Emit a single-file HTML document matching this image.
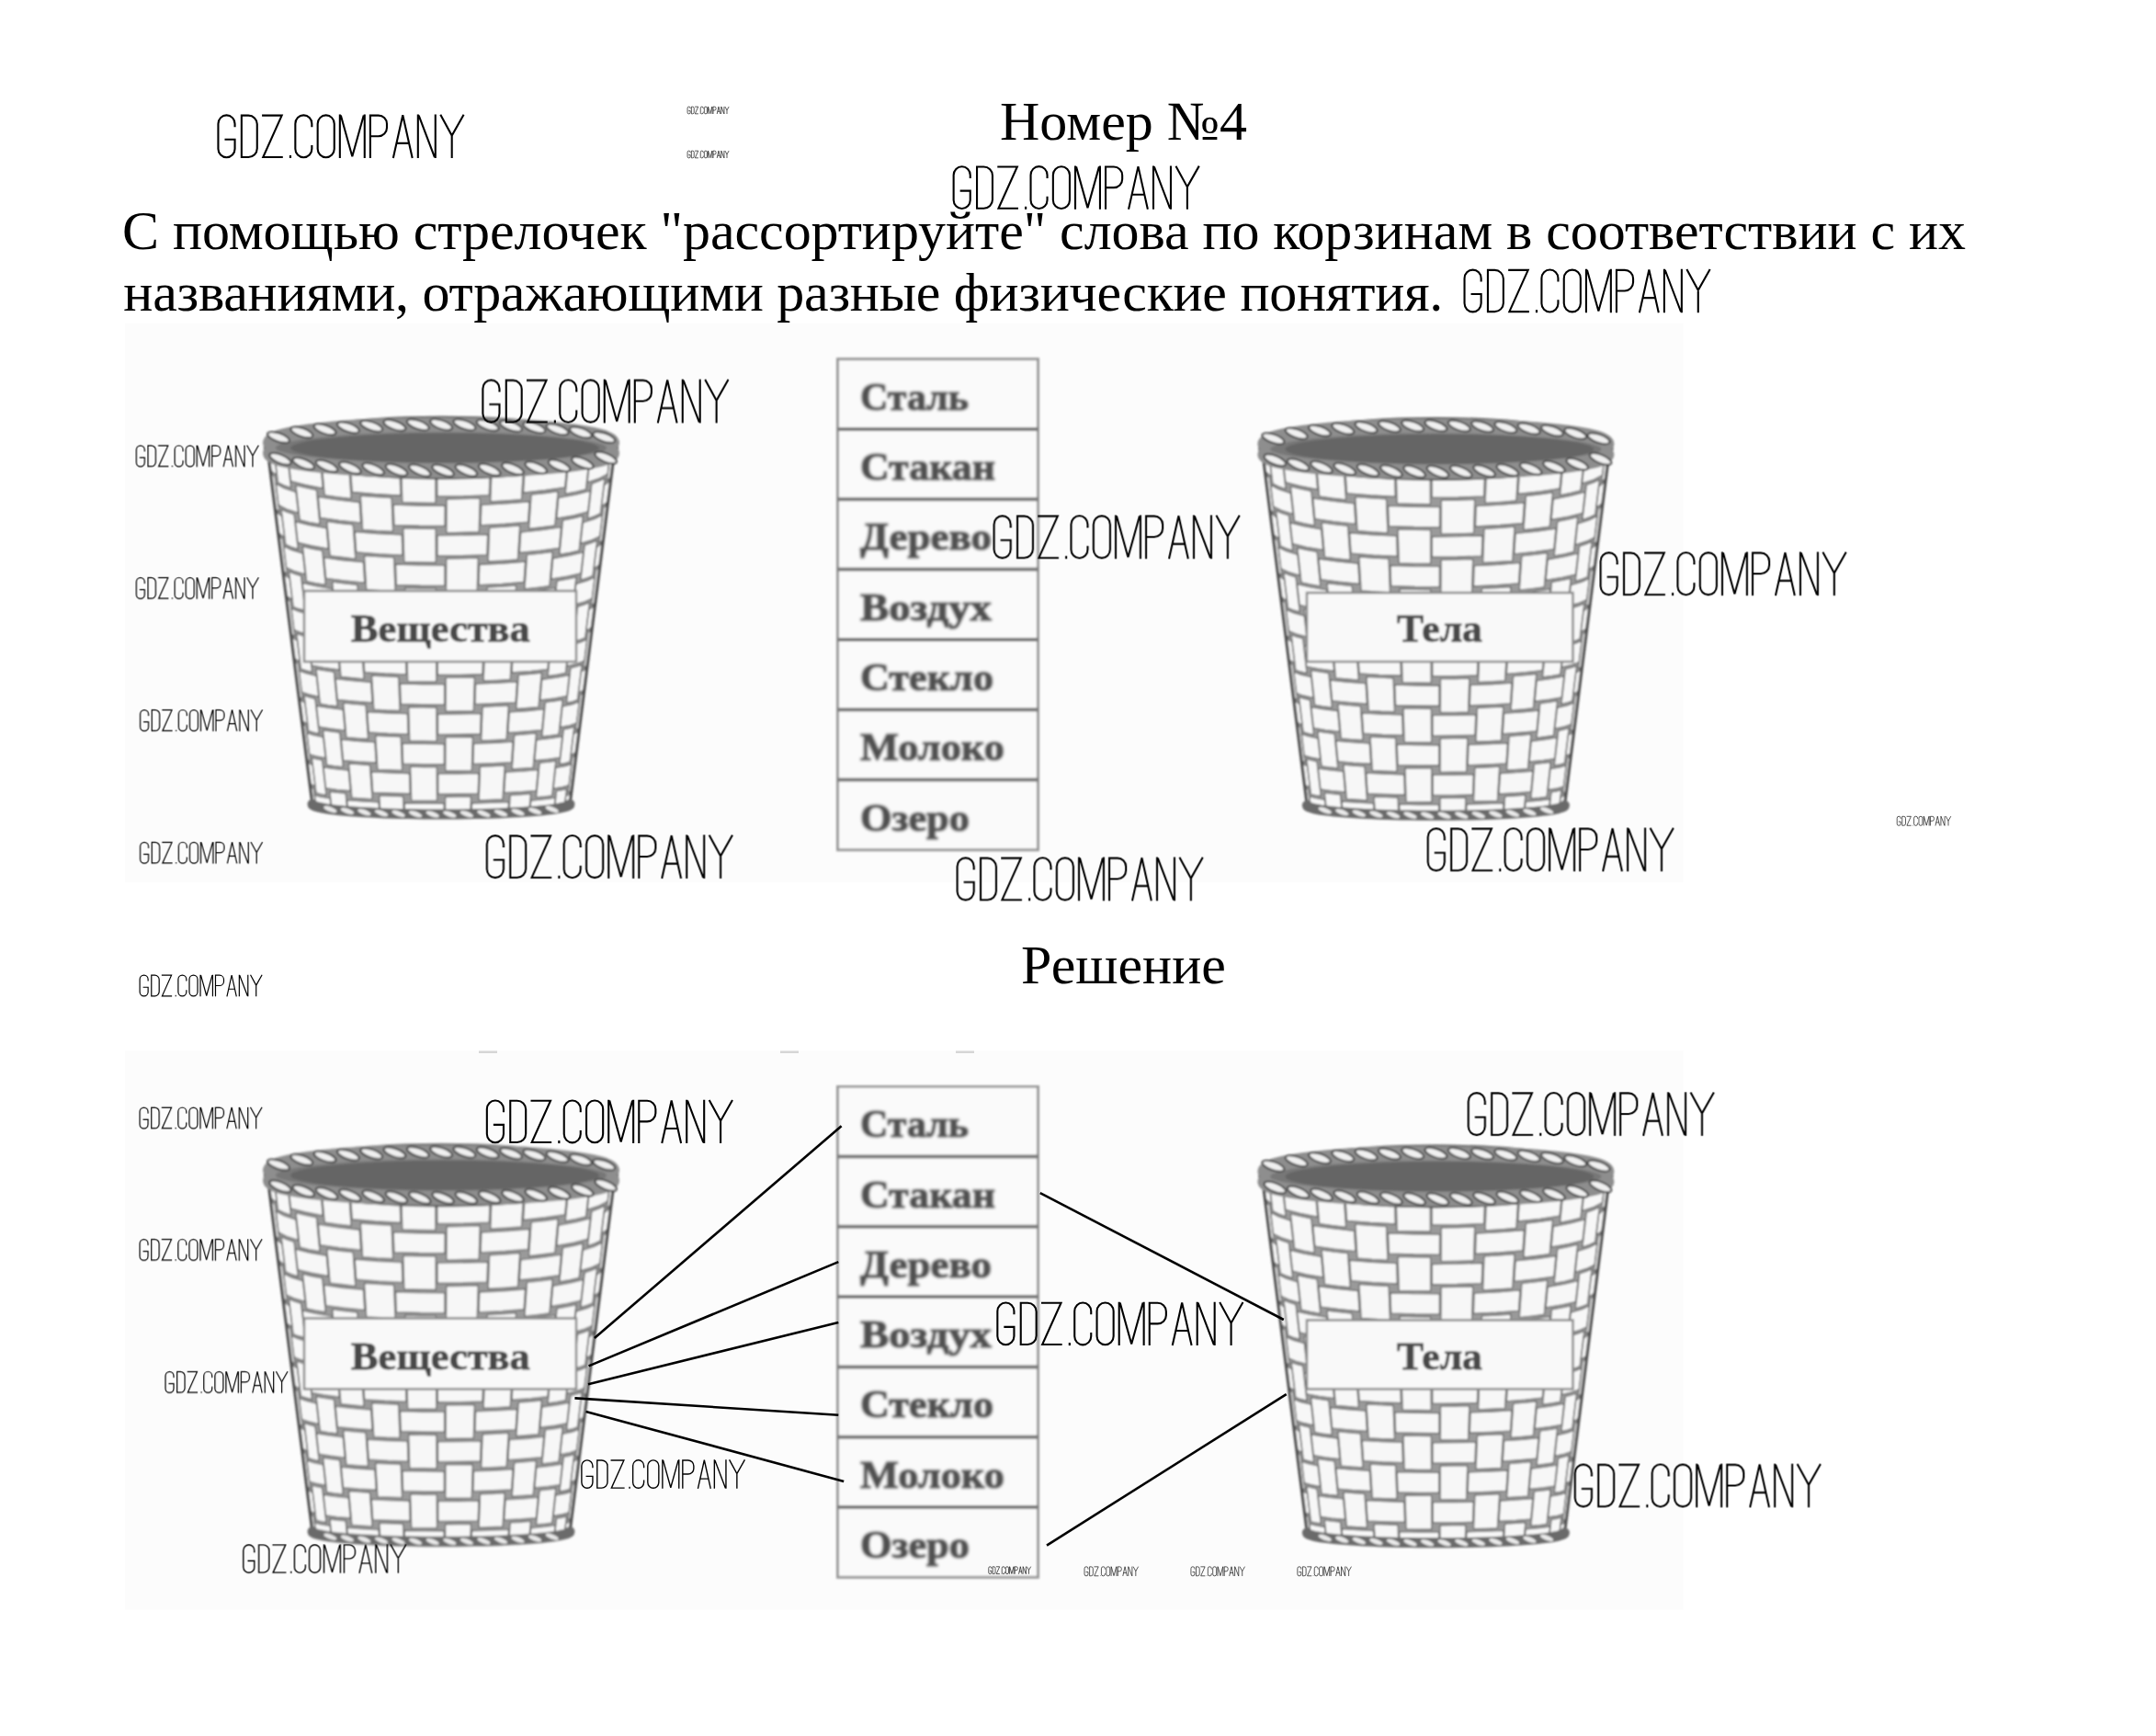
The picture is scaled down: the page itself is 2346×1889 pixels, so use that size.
<!DOCTYPE html><html><head><meta charset="utf-8"><style>html,body{margin:0;padding:0;background:#fff;width:2346px;height:1889px;overflow:hidden}svg{display:block}</style></head><body>
<svg width="2346" height="1889" viewBox="0 0 2346 1889">
<defs>
<filter id="soft" x="-5%" y="-5%" width="110%" height="110%"><feGaussianBlur stdDeviation="0.9"/></filter>
<filter id="soft2" x="-10%" y="-10%" width="120%" height="120%"><feGaussianBlur stdDeviation="1.0"/></filter>
<clipPath id="bclip"><path d="M-189.0,0.0 L-188.6,2.2 L-187.4,4.3 L-185.4,6.4 L-182.6,8.5 L-179.0,10.6 L-174.6,12.6 L-169.5,14.6 L-163.7,16.5 L-157.1,18.3 L-149.9,20.1 L-142.1,21.8 L-133.6,23.3 L-124.6,24.8 L-115.1,26.2 L-105.0,27.4 L-94.5,28.6 L-83.6,29.6 L-72.3,30.5 L-60.8,31.2 L-48.9,31.9 L-36.9,32.4 L-24.7,32.7 L-12.4,32.9 L0.0,33.0 L12.4,32.9 L24.7,32.7 L36.9,32.4 L48.9,31.9 L60.8,31.2 L72.3,30.5 L83.6,29.6 L94.5,28.6 L105.0,27.4 L115.1,26.2 L124.6,24.8 L133.6,23.3 L142.1,21.8 L149.9,20.1 L157.1,18.3 L163.7,16.5 L169.5,14.6 L174.6,12.6 L179.0,10.6 L182.6,8.5 L185.4,6.4 L187.4,4.3 L188.6,2.2 L189.0,0.0 L140.0,388.0 L139.7,388.7 L138.8,389.4 L137.3,390.1 L135.2,390.8 L132.6,391.5 L129.3,392.2 L125.6,392.9 L121.2,393.5 L116.4,394.1 L111.1,394.7 L105.3,395.3 L99.0,395.8 L92.3,396.3 L85.2,396.7 L77.8,397.1 L70.0,397.5 L61.9,397.9 L53.6,398.2 L45.0,398.4 L36.2,398.6 L27.3,398.8 L18.3,398.9 L9.2,399.0 L0.0,399.0 L-9.2,399.0 L-18.3,398.9 L-27.3,398.8 L-36.2,398.6 L-45.0,398.4 L-53.6,398.2 L-61.9,397.9 L-70.0,397.5 L-77.8,397.1 L-85.2,396.7 L-92.3,396.3 L-99.0,395.8 L-105.3,395.3 L-111.1,394.7 L-116.4,394.1 L-121.2,393.5 L-125.6,392.9 L-129.3,392.2 L-132.6,391.5 L-135.2,390.8 L-137.3,390.1 L-138.8,389.4 L-139.7,388.7 L-140.0,388.0Z"/></clipPath>
<g id="basket">
<path d="M-189.0,0.0 L-188.6,2.2 L-187.4,4.3 L-185.4,6.4 L-182.6,8.5 L-179.0,10.6 L-174.6,12.6 L-169.5,14.6 L-163.7,16.5 L-157.1,18.3 L-149.9,20.1 L-142.1,21.8 L-133.6,23.3 L-124.6,24.8 L-115.1,26.2 L-105.0,27.4 L-94.5,28.6 L-83.6,29.6 L-72.3,30.5 L-60.8,31.2 L-48.9,31.9 L-36.9,32.4 L-24.7,32.7 L-12.4,32.9 L0.0,33.0 L12.4,32.9 L24.7,32.7 L36.9,32.4 L48.9,31.9 L60.8,31.2 L72.3,30.5 L83.6,29.6 L94.5,28.6 L105.0,27.4 L115.1,26.2 L124.6,24.8 L133.6,23.3 L142.1,21.8 L149.9,20.1 L157.1,18.3 L163.7,16.5 L169.5,14.6 L174.6,12.6 L179.0,10.6 L182.6,8.5 L185.4,6.4 L187.4,4.3 L188.6,2.2 L189.0,0.0 L140.0,388.0 L139.7,388.7 L138.8,389.4 L137.3,390.1 L135.2,390.8 L132.6,391.5 L129.3,392.2 L125.6,392.9 L121.2,393.5 L116.4,394.1 L111.1,394.7 L105.3,395.3 L99.0,395.8 L92.3,396.3 L85.2,396.7 L77.8,397.1 L70.0,397.5 L61.9,397.9 L53.6,398.2 L45.0,398.4 L36.2,398.6 L27.3,398.8 L18.3,398.9 L9.2,399.0 L0.0,399.0 L-9.2,399.0 L-18.3,398.9 L-27.3,398.8 L-36.2,398.6 L-45.0,398.4 L-53.6,398.2 L-61.9,397.9 L-70.0,397.5 L-77.8,397.1 L-85.2,396.7 L-92.3,396.3 L-99.0,395.8 L-105.3,395.3 L-111.1,394.7 L-116.4,394.1 L-121.2,393.5 L-125.6,392.9 L-129.3,392.2 L-132.6,391.5 L-135.2,390.8 L-137.3,390.1 L-138.8,389.4 L-139.7,388.7 L-140.0,388.0Z" fill="#9a9a9a"/>
<g clip-path="url(#bclip)" fill="#f7f7f7" stroke="#585858" stroke-width="1.1">
<path d="M-193.6,-36.5 L-193.6,-36.1 L-193.6,-35.7 L-190.6,-12.4 L-190.6,-12.8 L-190.7,-13.1 Z"/>
<path d="M-184.9,32.2 L-184.9,32.6 L-184.9,32.9 L-181.9,56.2 L-182.0,55.9 L-182.0,55.5 Z"/>
<path d="M-176.3,100.9 L-176.2,101.2 L-176.2,101.5 L-173.3,124.8 L-173.3,124.5 L-173.3,124.2 Z"/>
<path d="M-167.6,169.6 L-167.6,169.9 L-167.5,170.1 L-164.6,193.4 L-164.6,193.2 L-164.6,192.9 Z"/>
<path d="M-158.9,238.3 L-158.9,238.5 L-158.9,238.7 L-155.9,262.0 L-155.9,261.8 L-156.0,261.6 Z"/>
<path d="M-150.2,307.0 L-150.2,307.2 L-150.2,307.4 L-147.2,330.6 L-147.3,330.5 L-147.3,330.3 Z"/>
<path d="M-141.6,375.7 L-141.5,375.8 L-141.5,376.0 L-138.6,399.3 L-138.6,399.1 L-138.6,399.0 Z"/>
<path d="M-193.8,-37.6 L-192.2,-34.2 L-188.8,-30.8 L-184.7,2.2 L-188.1,-1.1 L-189.6,-4.3 Z"/>
<path d="M-189.3,-2.1 L-187.4,2.6 L-181.7,7.2 L-178.9,30.1 L-184.4,25.7 L-186.3,21.2 Z"/>
<path d="M-185.8,25.5 L-184.3,28.6 L-181.1,31.7 L-176.3,70.0 L-179.5,67.1 L-180.9,64.3 Z"/>
<path d="M-180.6,66.6 L-178.8,70.7 L-173.4,74.8 L-170.5,97.7 L-175.9,93.8 L-177.6,89.9 Z"/>
<path d="M-177.1,94.1 L-175.7,96.8 L-172.6,99.5 L-167.8,137.8 L-170.9,135.3 L-172.2,132.8 Z"/>
<path d="M-171.9,135.3 L-170.2,138.9 L-165.0,142.4 L-162.2,165.3 L-167.3,162.0 L-169.0,158.6 Z"/>
<path d="M-168.5,162.7 L-167.1,165.0 L-164.2,167.3 L-159.4,205.6 L-162.3,203.5 L-163.6,201.4 Z"/>
<path d="M-163.2,204.0 L-161.6,207.0 L-156.7,210.0 L-153.9,232.9 L-158.7,230.1 L-160.3,227.3 Z"/>
<path d="M-159.8,231.2 L-158.5,233.2 L-155.7,235.1 L-150.9,273.4 L-153.7,271.7 L-154.9,270.0 Z"/>
<path d="M-154.6,272.7 L-153.0,275.1 L-148.4,277.6 L-145.5,300.5 L-150.1,298.3 L-151.6,296.0 Z"/>
<path d="M-151.1,299.8 L-149.9,301.4 L-147.3,302.9 L-142.5,341.2 L-145.1,339.9 L-146.2,338.5 Z"/>
<path d="M-145.9,341.4 L-144.4,343.3 L-140.0,345.2 L-137.2,368.1 L-141.5,366.4 L-142.9,364.7 Z"/>
<path d="M-142.5,368.4 L-141.3,369.5 L-138.8,370.7 L-134.0,409.0 L-136.5,408.1 L-137.6,407.1 Z"/>
<path d="M-137.2,410.1 L-135.8,411.4 L-131.7,412.8 L-129.7,429.3 L-133.7,428.0 L-135.1,426.8 Z"/>
<path d="M-188.1,-28.1 L-178.9,-23.0 L-165.5,-18.3 L-163.0,4.4 L-176.1,-0.2 L-185.2,-5.1 Z"/>
<path d="M-182.1,-0.1 L-175.8,3.0 L-167.8,6.0 L-163.5,43.7 L-171.2,40.9 L-177.4,38.0 Z"/>
<path d="M-179.6,39.6 L-170.9,44.2 L-158.1,48.4 L-155.5,71.0 L-168.1,67.0 L-176.8,62.6 Z"/>
<path d="M-173.8,67.4 L-167.7,70.2 L-160.1,72.8 L-155.8,110.6 L-163.2,108.1 L-169.1,105.6 Z"/>
<path d="M-171.2,107.4 L-162.8,111.4 L-150.6,115.1 L-148.1,137.7 L-160.1,134.2 L-168.4,130.4 Z"/>
<path d="M-165.4,135.0 L-159.7,137.4 L-152.5,139.7 L-148.2,177.4 L-155.2,175.4 L-160.8,173.2 Z"/>
<path d="M-162.8,175.2 L-154.8,178.6 L-143.2,181.8 L-140.7,204.4 L-152.1,201.4 L-159.9,198.2 Z"/>
<path d="M-157.1,202.6 L-151.7,204.6 L-144.8,206.5 L-140.5,244.3 L-147.2,242.6 L-152.5,240.7 Z"/>
<path d="M-154.4,242.9 L-146.8,245.8 L-135.8,248.4 L-133.3,271.1 L-144.1,268.6 L-151.5,265.9 Z"/>
<path d="M-148.8,270.1 L-143.7,271.8 L-137.2,273.4 L-132.9,311.2 L-139.2,309.8 L-144.2,308.3 Z"/>
<path d="M-145.9,310.7 L-138.8,313.0 L-128.4,315.1 L-125.9,337.7 L-136.1,335.8 L-143.1,333.7 Z"/>
<path d="M-140.5,337.7 L-135.7,339.0 L-129.5,340.3 L-125.2,378.0 L-131.2,377.0 L-135.9,375.9 Z"/>
<path d="M-137.5,378.5 L-130.8,380.2 L-121.0,381.8 L-118.5,404.4 L-128.1,403.0 L-134.6,401.5 Z"/>
<path d="M-132.2,405.3 L-127.7,406.2 L-121.9,407.1 L-119.1,430.9 L-124.8,430.2 L-129.3,429.4 Z"/>
<path d="M-164.7,-20.2 L-153.8,-17.4 L-141.5,-14.7 L-138.4,17.4 L-150.5,14.9 L-161.1,12.2 Z"/>
<path d="M-166.0,13.8 L-150.2,18.0 L-130.8,21.8 L-128.8,44.2 L-147.8,40.6 L-163.4,36.5 Z"/>
<path d="M-157.9,41.2 L-147.5,43.7 L-135.7,46.1 L-132.1,83.4 L-143.6,81.2 L-153.7,78.8 Z"/>
<path d="M-158.4,80.6 L-143.3,84.4 L-124.8,87.7 L-122.8,110.1 L-140.9,106.9 L-155.8,103.3 Z"/>
<path d="M-150.5,107.8 L-140.6,110.1 L-129.4,112.1 L-125.8,149.4 L-136.7,147.5 L-146.3,145.5 Z"/>
<path d="M-150.8,147.4 L-136.4,150.7 L-118.8,153.6 L-116.8,175.9 L-134.1,173.2 L-148.2,170.1 Z"/>
<path d="M-143.1,174.5 L-133.7,176.4 L-123.0,178.2 L-119.4,215.5 L-129.8,213.8 L-139.0,212.1 Z"/>
<path d="M-143.2,214.3 L-129.5,217.0 L-112.8,219.5 L-110.8,241.8 L-127.2,239.5 L-140.6,237.0 Z"/>
<path d="M-135.8,241.1 L-126.8,242.7 L-116.7,244.2 L-113.1,281.5 L-123.0,280.2 L-131.6,278.7 Z"/>
<path d="M-135.5,281.1 L-122.6,283.3 L-106.8,285.3 L-104.8,307.7 L-120.3,305.9 L-133.0,303.8 Z"/>
<path d="M-128.4,307.7 L-120.0,309.0 L-110.4,310.2 L-106.8,347.5 L-116.1,346.5 L-124.2,345.4 Z"/>
<path d="M-127.9,347.9 L-115.7,349.7 L-100.8,351.2 L-98.8,373.6 L-113.4,372.2 L-125.4,370.6 Z"/>
<path d="M-121.0,374.4 L-113.1,375.4 L-104.0,376.3 L-100.5,413.6 L-109.2,412.8 L-116.9,412.0 Z"/>
<path d="M-120.3,414.7 L-108.9,416.0 L-94.8,417.1 L-93.4,433.2 L-107.2,432.2 L-118.5,431.0 Z"/>
<path d="M-139.9,-12.2 L-117.9,-8.6 L-93.0,-5.7 L-91.6,16.4 L-116.1,13.6 L-137.8,10.2 Z"/>
<path d="M-130.1,14.6 L-115.8,16.8 L-100.5,18.6 L-97.9,55.6 L-112.8,53.8 L-126.7,51.8 Z"/>
<path d="M-133.6,53.8 L-112.6,57.0 L-88.9,59.6 L-87.5,81.7 L-110.8,79.2 L-131.5,76.2 Z"/>
<path d="M-124.1,80.5 L-110.5,82.4 L-95.9,84.0 L-93.3,121.0 L-107.5,119.4 L-120.8,117.7 Z"/>
<path d="M-127.4,119.8 L-107.3,122.6 L-84.7,124.8 L-83.3,147.0 L-105.5,144.8 L-125.2,142.2 Z"/>
<path d="M-118.2,146.3 L-105.3,148.0 L-91.3,149.4 L-88.7,186.3 L-102.3,185.0 L-114.8,183.5 Z"/>
<path d="M-121.1,185.8 L-102.0,188.2 L-80.5,190.1 L-79.1,212.3 L-100.2,210.4 L-119.0,208.2 Z"/>
<path d="M-112.3,212.2 L-100.0,213.6 L-86.7,214.8 L-84.1,251.7 L-97.0,250.6 L-108.9,249.4 Z"/>
<path d="M-114.8,251.8 L-96.7,253.8 L-76.4,255.4 L-75.0,277.6 L-94.9,276.0 L-112.7,274.2 Z"/>
<path d="M-106.3,278.0 L-94.7,279.2 L-82.1,280.2 L-79.5,317.1 L-91.7,316.2 L-103.0,315.2 Z"/>
<path d="M-108.6,317.8 L-91.5,319.4 L-72.2,320.7 L-70.8,342.8 L-89.7,341.7 L-106.4,340.2 Z"/>
<path d="M-100.4,343.9 L-89.4,344.8 L-77.6,345.6 L-75.0,382.5 L-86.4,381.8 L-97.0,381.1 Z"/>
<path d="M-102.3,383.8 L-86.2,385.0 L-68.0,386.0 L-66.6,408.1 L-84.4,407.3 L-100.2,406.2 Z"/>
<path d="M-94.5,409.7 L-84.1,410.4 L-73.0,411.0 L-71.3,434.3 L-82.2,433.8 L-92.4,433.2 Z"/>
<path d="M-91.4,-7.8 L-74.2,-6.3 L-56.3,-5.1 L-55.1,26.5 L-72.6,25.4 L-89.4,24.0 Z"/>
<path d="M-98.3,26.2 L-72.4,28.5 L-44.9,30.1 L-44.2,52.1 L-71.3,50.6 L-96.7,48.4 Z"/>
<path d="M-87.6,52.4 L-71.1,53.7 L-54.0,54.7 L-52.5,91.4 L-69.3,90.5 L-85.3,89.2 Z"/>
<path d="M-93.8,91.6 L-69.1,93.6 L-42.8,95.0 L-42.1,117.0 L-68.0,115.7 L-92.2,113.7 Z"/>
<path d="M-83.5,117.6 L-67.8,118.8 L-51.4,119.7 L-50.0,156.4 L-65.9,155.6 L-81.2,154.5 Z"/>
<path d="M-89.3,156.9 L-65.8,158.7 L-40.8,159.9 L-40.1,181.9 L-64.7,180.8 L-87.7,179.1 Z"/>
<path d="M-79.5,182.9 L-64.5,183.9 L-48.9,184.7 L-47.5,221.4 L-62.6,220.7 L-77.1,219.7 Z"/>
<path d="M-84.7,222.3 L-62.5,223.8 L-38.7,224.8 L-38.0,246.8 L-61.3,245.9 L-83.2,244.5 Z"/>
<path d="M-75.4,248.1 L-61.2,249.0 L-46.4,249.6 L-45.0,286.3 L-59.3,285.8 L-73.1,285.0 Z"/>
<path d="M-80.2,287.7 L-59.1,288.9 L-36.7,289.7 L-36.0,311.7 L-58.0,311.0 L-78.7,309.8 Z"/>
<path d="M-71.3,313.4 L-57.9,314.1 L-43.9,314.6 L-42.5,351.3 L-56.0,350.8 L-69.0,350.3 Z"/>
<path d="M-75.7,353.0 L-55.8,354.0 L-34.6,354.6 L-33.9,376.6 L-54.7,376.1 L-74.2,375.2 Z"/>
<path d="M-67.2,378.7 L-54.5,379.2 L-41.4,379.6 L-40.0,416.3 L-52.7,415.9 L-64.9,415.5 Z"/>
<path d="M-71.2,418.4 L-52.5,419.1 L-32.6,419.5 L-32.1,435.3 L-51.7,434.9 L-70.1,434.3 Z"/>
<path d="M-54.3,-2.8 L-25.3,-1.7 L4.3,-1.4 L4.2,20.6 L-24.9,20.3 L-53.4,19.2 Z"/>
<path d="M-43.2,22.8 L-24.8,23.4 L-6.2,23.7 L-6.1,60.3 L-24.2,60.0 L-42.1,59.5 Z"/>
<path d="M-51.8,62.2 L-24.1,63.1 L4.1,63.4 L4.0,85.4 L-23.8,85.1 L-51.0,84.2 Z"/>
<path d="M-41.2,87.7 L-23.7,88.2 L-5.9,88.5 L-5.8,125.1 L-23.1,124.9 L-40.1,124.4 Z"/>
<path d="M-49.4,127.1 L-23.0,128.0 L3.9,128.2 L3.9,150.2 L-22.6,150.0 L-48.6,149.2 Z"/>
<path d="M-39.3,152.6 L-22.6,153.1 L-5.7,153.3 L-5.5,189.9 L-21.9,189.7 L-38.1,189.3 Z"/>
<path d="M-47.0,192.1 L-21.9,192.8 L3.7,193.0 L3.7,215.0 L-21.5,214.8 L-46.1,214.1 Z"/>
<path d="M-37.3,217.5 L-21.4,217.9 L-5.4,218.1 L-5.2,254.7 L-20.8,254.5 L-36.2,254.2 Z"/>
<path d="M-44.5,257.0 L-20.7,257.6 L3.5,257.8 L3.5,279.8 L-20.4,279.6 L-43.7,279.1 Z"/>
<path d="M-35.3,282.4 L-20.3,282.7 L-5.1,282.9 L-4.9,319.5 L-19.7,319.4 L-34.2,319.1 Z"/>
<path d="M-42.1,322.0 L-19.6,322.5 L3.3,322.6 L3.3,344.6 L-19.2,344.5 L-41.3,344.0 Z"/>
<path d="M-33.4,347.3 L-19.2,347.6 L-4.8,347.7 L-4.6,384.3 L-18.5,384.2 L-32.2,384.0 Z"/>
<path d="M-39.7,386.9 L-18.5,387.3 L3.1,387.4 L3.1,409.4 L-18.1,409.3 L-38.8,409.0 Z"/>
<path d="M-31.4,412.2 L-18.0,412.4 L-4.5,412.5 L-4.4,435.6 L-17.6,435.5 L-30.7,435.4 Z"/>
<path d="M6.3,-3.6 L25.3,-3.9 L44.0,-4.5 L43.1,27.0 L24.8,27.6 L6.2,27.9 Z"/>
<path d="M-4.2,31.0 L24.7,30.7 L53.0,29.7 L52.2,51.7 L24.3,52.7 L-4.1,53.0 Z"/>
<path d="M6.1,56.1 L24.3,55.8 L42.2,55.3 L41.1,91.9 L23.6,92.4 L5.9,92.7 Z"/>
<path d="M-4.0,95.8 L23.6,95.5 L50.6,94.6 L49.8,116.7 L23.2,117.6 L-4.0,117.8 Z"/>
<path d="M5.8,120.9 L23.1,120.7 L40.2,120.2 L39.1,156.8 L22.5,157.3 L5.6,157.5 Z"/>
<path d="M-3.8,160.6 L22.4,160.4 L48.2,159.6 L47.4,181.6 L22.1,182.4 L-3.8,182.6 Z"/>
<path d="M5.5,185.7 L22.0,185.5 L38.3,185.1 L37.2,221.7 L21.4,222.1 L5.4,222.3 Z"/>
<path d="M-3.6,225.4 L21.3,225.2 L45.7,224.5 L44.9,246.6 L20.9,247.2 L-3.6,247.4 Z"/>
<path d="M5.2,250.5 L20.9,250.3 L36.3,250.0 L35.2,286.6 L20.2,286.9 L5.1,287.1 Z"/>
<path d="M-3.4,290.2 L20.2,290.0 L43.3,289.5 L42.5,311.6 L19.8,312.1 L-3.4,312.2 Z"/>
<path d="M4.9,315.3 L19.7,315.2 L34.3,314.9 L33.2,351.5 L19.1,351.8 L4.8,351.9 Z"/>
<path d="M-3.2,355.0 L19.0,354.9 L40.9,354.5 L40.1,376.5 L18.7,376.9 L-3.2,377.0 Z"/>
<path d="M4.7,380.1 L18.6,380.0 L32.4,379.8 L31.3,416.4 L18.0,416.6 L4.5,416.7 Z"/>
<path d="M-3.1,419.8 L17.9,419.7 L38.5,419.4 L37.9,435.2 L17.6,435.5 L-3.0,435.6 Z"/>
<path d="M45.9,-2.4 L74.1,-4.1 L100.5,-6.5 L99.0,15.7 L73.0,18.0 L45.2,19.6 Z"/>
<path d="M55.2,22.3 L72.8,21.1 L89.7,19.7 L87.4,56.6 L70.9,57.9 L53.8,58.9 Z"/>
<path d="M43.9,62.5 L70.8,61.0 L96.0,58.9 L94.5,81.1 L69.6,83.1 L43.2,84.5 Z"/>
<path d="M52.7,87.2 L69.5,86.2 L85.6,85.0 L83.3,121.9 L67.6,123.0 L51.3,123.9 Z"/>
<path d="M41.8,127.4 L67.4,126.1 L91.5,124.2 L90.0,146.4 L66.3,148.2 L41.1,149.5 Z"/>
<path d="M50.2,152.2 L66.2,151.3 L81.5,150.3 L79.2,187.1 L64.3,188.1 L48.8,188.9 Z"/>
<path d="M39.8,192.3 L64.1,191.2 L87.0,189.6 L85.5,211.8 L63.0,213.3 L39.1,214.4 Z"/>
<path d="M47.7,217.2 L62.8,216.4 L77.4,215.5 L75.1,252.4 L61.0,253.2 L46.2,253.9 Z"/>
<path d="M37.7,257.2 L60.8,256.3 L82.5,255.0 L81.0,277.2 L59.7,278.4 L37.0,279.3 Z"/>
<path d="M45.2,282.1 L59.5,281.5 L73.3,280.8 L71.0,317.6 L57.6,318.3 L43.7,318.8 Z"/>
<path d="M35.6,322.2 L57.5,321.4 L78.0,320.3 L76.5,342.5 L56.4,343.5 L34.9,344.2 Z"/>
<path d="M42.6,347.1 L56.2,346.6 L69.2,346.0 L66.9,382.9 L54.3,383.4 L41.2,383.8 Z"/>
<path d="M33.6,387.1 L54.2,386.5 L73.5,385.7 L72.0,407.9 L53.0,408.6 L32.9,409.1 Z"/>
<path d="M40.1,412.1 L52.9,411.7 L65.1,411.3 L63.7,434.6 L51.7,434.9 L39.2,435.2 Z"/>
<path d="M102.4,-8.9 L118.0,-10.9 L132.5,-13.1 L129.7,18.9 L115.5,21.0 L100.2,22.9 Z"/>
<path d="M91.0,26.9 L115.2,24.2 L136.8,20.8 L134.6,43.2 L113.4,46.4 L89.5,49.1 Z"/>
<path d="M98.2,51.3 L113.2,49.6 L127.1,47.6 L123.7,84.8 L110.2,86.6 L95.6,88.3 Z"/>
<path d="M86.8,92.2 L109.9,89.8 L130.5,86.8 L128.4,109.2 L108.1,112.0 L85.4,114.4 Z"/>
<path d="M93.6,116.7 L107.9,115.2 L121.2,113.4 L117.8,150.6 L104.9,152.2 L91.0,153.7 Z"/>
<path d="M82.6,157.5 L104.7,155.4 L124.2,152.8 L122.1,175.2 L102.9,177.6 L81.2,179.6 Z"/>
<path d="M89.0,182.1 L102.6,180.8 L115.2,179.3 L111.9,216.5 L99.6,217.8 L86.4,219.0 Z"/>
<path d="M78.5,222.8 L99.4,221.0 L118.0,218.8 L115.8,241.2 L97.6,243.2 L77.0,244.9 Z"/>
<path d="M84.4,247.5 L97.3,246.4 L109.3,245.1 L105.9,282.3 L94.3,283.4 L81.8,284.4 Z"/>
<path d="M74.3,288.0 L94.1,286.6 L111.7,284.8 L109.6,307.2 L92.3,308.8 L72.9,310.2 Z"/>
<path d="M79.8,312.9 L92.0,312.0 L103.4,311.0 L100.0,348.2 L89.1,349.0 L77.3,349.8 Z"/>
<path d="M70.1,353.3 L88.8,352.2 L105.4,350.8 L103.3,373.2 L87.0,374.5 L68.7,375.5 Z"/>
<path d="M75.3,378.3 L86.8,377.6 L97.4,376.8 L94.1,414.0 L83.8,414.6 L72.7,415.2 Z"/>
<path d="M65.9,418.6 L83.5,417.8 L99.2,416.8 L97.6,432.9 L82.2,433.8 L64.9,434.5 Z"/>
<path d="M133.8,-11.1 L153.6,-15.1 L169.8,-19.6 L167.2,3.1 L151.3,7.4 L131.8,11.2 Z"/>
<path d="M138.9,13.1 L150.9,10.6 L161.6,7.9 L157.4,45.5 L147.0,48.0 L135.3,50.4 Z"/>
<path d="M127.8,54.8 L146.7,51.2 L162.2,47.2 L159.6,69.9 L144.4,73.7 L125.8,77.1 Z"/>
<path d="M132.5,79.1 L144.0,76.9 L154.2,74.5 L150.0,112.1 L140.2,114.4 L128.9,116.4 Z"/>
<path d="M121.8,120.6 L139.8,117.5 L154.6,114.0 L152.0,136.7 L137.5,140.0 L119.8,143.0 Z"/>
<path d="M126.2,145.1 L137.2,143.2 L146.8,141.1 L142.7,178.8 L133.3,180.7 L122.6,182.4 Z"/>
<path d="M115.8,186.5 L132.9,183.9 L147.0,180.9 L144.4,203.5 L130.6,206.4 L113.8,208.9 Z"/>
<path d="M119.9,211.2 L130.3,209.5 L139.5,207.8 L135.3,245.4 L126.4,247.0 L116.3,248.5 Z"/>
<path d="M109.8,252.4 L126.1,250.2 L139.3,247.7 L136.8,270.4 L123.7,272.7 L107.8,274.8 Z"/>
<path d="M113.5,277.2 L123.4,275.9 L132.1,274.4 L127.9,312.1 L119.5,313.3 L109.9,314.5 Z"/>
<path d="M103.8,318.3 L119.2,316.5 L131.7,314.5 L129.2,337.2 L116.8,339.0 L101.8,340.6 Z"/>
<path d="M107.2,343.2 L116.5,342.2 L124.7,341.1 L120.6,378.7 L112.6,379.7 L103.6,380.5 Z"/>
<path d="M97.8,384.2 L112.3,382.8 L124.1,381.3 L121.6,404.0 L110.0,405.3 L95.8,406.5 Z"/>
<path d="M100.9,409.3 L109.6,408.5 L117.4,407.7 L114.7,431.4 L107.2,432.2 L98.6,432.8 Z"/>
<path d="M171.0,-22.2 L179.1,-25.3 L185.6,-28.6 L181.5,4.3 L175.2,7.3 L167.3,10.3 Z"/>
<path d="M161.8,15.1 L174.9,10.6 L183.9,5.7 L181.0,28.7 L172.1,33.4 L159.2,37.7 Z"/>
<path d="M164.0,39.4 L171.8,36.6 L177.9,33.7 L173.2,71.8 L167.2,74.5 L159.6,77.2 Z"/>
<path d="M154.3,81.7 L166.8,77.8 L175.4,73.5 L172.6,96.5 L164.1,100.6 L151.8,104.4 Z"/>
<path d="M156.3,106.2 L163.7,103.8 L169.6,101.2 L164.9,139.4 L159.2,141.7 L152.0,144.0 Z"/>
<path d="M146.9,148.4 L158.8,145.0 L167.0,141.3 L164.1,164.3 L156.1,167.8 L144.4,171.1 Z"/>
<path d="M148.7,173.1 L155.7,171.0 L161.3,168.8 L156.6,207.0 L151.2,209.0 L144.3,210.9 Z"/>
<path d="M139.5,215.1 L150.8,212.2 L158.6,209.1 L155.7,232.1 L148.1,235.0 L137.0,237.7 Z"/>
<path d="M141.0,240.0 L147.7,238.2 L153.0,236.4 L148.3,274.5 L143.2,276.2 L136.7,277.7 Z"/>
<path d="M132.1,281.8 L142.8,279.4 L150.2,276.8 L147.3,299.8 L140.1,302.2 L129.6,304.4 Z"/>
<path d="M133.4,306.8 L139.7,305.4 L144.7,303.9 L140.0,342.1 L135.2,343.4 L129.0,344.6 Z"/>
<path d="M124.7,348.4 L134.8,346.6 L141.7,344.6 L138.9,367.6 L132.1,369.4 L122.2,371.1 Z"/>
<path d="M125.7,373.7 L131.7,372.6 L136.4,371.5 L131.7,409.6 L127.2,410.6 L121.4,411.4 Z"/>
<path d="M117.3,415.1 L126.8,413.8 L133.3,412.4 L131.2,428.9 L124.8,430.2 L115.5,431.4 Z"/>
<path d="M185.8,-26.6 L191.7,-31.5 L193.6,-36.5 L190.7,-13.1 L188.7,-8.4 L183.0,-3.7 Z"/>
<path d="M185.3,-2.2 L188.6,-5.5 L190.1,-8.8 L185.2,30.0 L183.8,33.0 L180.5,36.1 Z"/>
<path d="M177.5,41.0 L183.1,36.6 L184.9,32.2 L182.0,55.5 L180.2,59.8 L174.7,63.9 Z"/>
<path d="M176.8,65.6 L180.0,62.7 L181.5,59.8 L176.6,98.5 L175.2,101.2 L172.1,103.9 Z"/>
<path d="M169.2,108.6 L174.5,104.8 L176.3,100.9 L173.3,124.2 L171.6,127.9 L166.4,131.5 Z"/>
<path d="M168.4,133.4 L171.4,130.9 L172.8,128.4 L167.9,167.1 L166.6,169.4 L163.6,171.7 Z"/>
<path d="M160.9,176.2 L165.9,172.9 L167.6,169.6 L164.6,192.9 L163.0,196.1 L158.0,199.1 Z"/>
<path d="M159.9,201.2 L162.8,199.1 L164.1,196.9 L159.2,235.7 L158.0,237.6 L155.2,239.5 Z"/>
<path d="M152.5,243.8 L157.3,241.1 L158.9,238.3 L156.0,261.6 L154.4,264.2 L149.7,266.7 Z"/>
<path d="M151.5,269.0 L154.2,267.3 L155.5,265.5 L150.6,304.2 L149.4,305.8 L146.7,307.3 Z"/>
<path d="M144.2,311.4 L148.7,309.2 L150.2,307.0 L147.3,330.3 L145.8,332.3 L141.4,334.3 Z"/>
<path d="M143.0,336.8 L145.6,335.5 L146.8,334.1 L141.9,372.8 L140.8,374.0 L138.3,375.1 Z"/>
<path d="M135.9,379.0 L140.1,377.4 L141.6,375.7 L138.6,399.0 L137.2,400.5 L133.1,401.9 Z"/>
<path d="M134.6,404.6 L137.0,403.6 L138.1,402.6 L135.0,427.1 L133.9,427.9 L131.6,428.8 Z"/>
<path d="M189.2,-1.4 L189.3,-1.8 L189.3,-2.1 L186.3,21.2 L186.3,21.6 L186.3,21.9 Z"/>
<path d="M180.5,67.2 L180.6,66.9 L180.6,66.6 L177.6,89.9 L177.6,90.2 L177.6,90.5 Z"/>
<path d="M171.9,135.8 L171.9,135.6 L171.9,135.3 L169.0,158.6 L169.0,158.9 L168.9,159.1 Z"/>
<path d="M163.2,204.4 L163.2,204.2 L163.2,204.0 L160.3,227.3 L160.3,227.5 L160.3,227.7 Z"/>
<path d="M154.5,273.1 L154.6,272.9 L154.6,272.7 L151.6,296.0 L151.6,296.2 L151.6,296.3 Z"/>
<path d="M145.9,341.7 L145.9,341.5 L145.9,341.4 L142.9,364.7 L142.9,364.8 L142.9,365.0 Z"/>
<path d="M137.2,410.3 L137.2,410.2 L137.2,410.1 L135.1,426.8 L135.1,426.9 L135.1,427.0 Z"/>
</g>
<path d="M-189.0,0.0 L-188.6,2.2 L-187.4,4.3 L-185.4,6.4 L-182.6,8.5 L-179.0,10.6 L-174.6,12.6 L-169.5,14.6 L-163.7,16.5 L-157.1,18.3 L-149.9,20.1 L-142.1,21.8 L-133.6,23.3 L-124.6,24.8 L-115.1,26.2 L-105.0,27.4 L-94.5,28.6 L-83.6,29.6 L-72.3,30.5 L-60.8,31.2 L-48.9,31.9 L-36.9,32.4 L-24.7,32.7 L-12.4,32.9 L0.0,33.0 L12.4,32.9 L24.7,32.7 L36.9,32.4 L48.9,31.9 L60.8,31.2 L72.3,30.5 L83.6,29.6 L94.5,28.6 L105.0,27.4 L115.1,26.2 L124.6,24.8 L133.6,23.3 L142.1,21.8 L149.9,20.1 L157.1,18.3 L163.7,16.5 L169.5,14.6 L174.6,12.6 L179.0,10.6 L182.6,8.5 L185.4,6.4 L187.4,4.3 L188.6,2.2 L189.0,0.0 L140.0,388.0 L139.7,388.7 L138.8,389.4 L137.3,390.1 L135.2,390.8 L132.6,391.5 L129.3,392.2 L125.6,392.9 L121.2,393.5 L116.4,394.1 L111.1,394.7 L105.3,395.3 L99.0,395.8 L92.3,396.3 L85.2,396.7 L77.8,397.1 L70.0,397.5 L61.9,397.9 L53.6,398.2 L45.0,398.4 L36.2,398.6 L27.3,398.8 L18.3,398.9 L9.2,399.0 L0.0,399.0 L-9.2,399.0 L-18.3,398.9 L-27.3,398.8 L-36.2,398.6 L-45.0,398.4 L-53.6,398.2 L-61.9,397.9 L-70.0,397.5 L-77.8,397.1 L-85.2,396.7 L-92.3,396.3 L-99.0,395.8 L-105.3,395.3 L-111.1,394.7 L-116.4,394.1 L-121.2,393.5 L-125.6,392.9 L-129.3,392.2 L-132.6,391.5 L-135.2,390.8 L-137.3,390.1 L-138.8,389.4 L-139.7,388.7 L-140.0,388.0Z" fill="none" stroke="#484848" stroke-width="3.2"/>
<path d="M-140.0,388.0 L-139.7,388.7 L-138.8,389.4 L-137.3,390.1 L-135.2,390.8 L-132.6,391.5 L-129.3,392.2 L-125.6,392.9 L-121.2,393.5 L-116.4,394.1 L-111.1,394.7 L-105.3,395.3 L-99.0,395.8 L-92.3,396.3 L-85.2,396.7 L-77.8,397.1 L-70.0,397.5 L-61.9,397.9 L-53.6,398.2 L-45.0,398.4 L-36.2,398.6 L-27.3,398.8 L-18.3,398.9 L-9.2,399.0 L0.0,399.0 L9.2,399.0 L18.3,398.9 L27.3,398.8 L36.2,398.6 L45.0,398.4 L53.6,398.2 L61.9,397.9 L70.0,397.5 L77.8,397.1 L85.2,396.7 L92.3,396.3 L99.0,395.8 L105.3,395.3 L111.1,394.7 L116.4,394.1 L121.2,393.5 L125.6,392.9 L129.3,392.2 L132.6,391.5 L135.2,390.8 L137.3,390.1 L138.8,389.4 L139.7,388.7 L140.0,388.0" fill="none" stroke="#6a6a6a" stroke-width="11" stroke-linecap="round"/>
<ellipse cx="-120.7" cy="393.6" rx="7.5" ry="2.6" fill="#eaeaea" transform="rotate(20 -120.7 393.6)"/>
<ellipse cx="-102.1" cy="395.5" rx="7.5" ry="2.6" fill="#eaeaea" transform="rotate(20 -102.1 395.5)"/>
<ellipse cx="-83.6" cy="396.8" rx="7.5" ry="2.6" fill="#eaeaea" transform="rotate(20 -83.6 396.8)"/>
<ellipse cx="-65.0" cy="397.7" rx="7.5" ry="2.6" fill="#eaeaea" transform="rotate(20 -65.0 397.7)"/>
<ellipse cx="-46.4" cy="398.4" rx="7.5" ry="2.6" fill="#eaeaea" transform="rotate(20 -46.4 398.4)"/>
<ellipse cx="-27.9" cy="398.8" rx="7.5" ry="2.6" fill="#eaeaea" transform="rotate(20 -27.9 398.8)"/>
<ellipse cx="-9.3" cy="399.0" rx="7.5" ry="2.6" fill="#eaeaea" transform="rotate(20 -9.3 399.0)"/>
<ellipse cx="9.3" cy="399.0" rx="7.5" ry="2.6" fill="#eaeaea" transform="rotate(20 9.3 399.0)"/>
<ellipse cx="27.9" cy="398.8" rx="7.5" ry="2.6" fill="#eaeaea" transform="rotate(20 27.9 398.8)"/>
<ellipse cx="46.4" cy="398.4" rx="7.5" ry="2.6" fill="#eaeaea" transform="rotate(20 46.4 398.4)"/>
<ellipse cx="65.0" cy="397.7" rx="7.5" ry="2.6" fill="#eaeaea" transform="rotate(20 65.0 397.7)"/>
<ellipse cx="83.6" cy="396.8" rx="7.5" ry="2.6" fill="#eaeaea" transform="rotate(20 83.6 396.8)"/>
<ellipse cx="102.1" cy="395.5" rx="7.5" ry="2.6" fill="#eaeaea" transform="rotate(20 102.1 395.5)"/>
<ellipse cx="120.7" cy="393.6" rx="7.5" ry="2.6" fill="#eaeaea" transform="rotate(20 120.7 393.6)"/>
<ellipse cx="0" cy="0" rx="192" ry="33" fill="#777" stroke="#454545" stroke-width="2.5"/>
<ellipse cx="4" cy="0.5" rx="168" ry="16" fill="#656565"/>
<path d="M-186,-5 A186,20 0 0 1 186,-5" fill="none" stroke="#8e8e8e" stroke-width="16" stroke-linecap="round"/>
<path d="M-186,6 A186,19 0 0 0 186,6" fill="none" stroke="#8e8e8e" stroke-width="16" stroke-linecap="round"/>
<ellipse cx="-177.0" cy="-11.1" rx="12.5" ry="4.6" fill="#f0f0f0" stroke="#404040" stroke-width="2" transform="rotate(19 -177.0 -11.1)"/>
<ellipse cx="-151.7" cy="-16.6" rx="12.5" ry="4.6" fill="#f0f0f0" stroke="#404040" stroke-width="2" transform="rotate(19 -151.7 -16.6)"/>
<ellipse cx="-126.4" cy="-19.7" rx="12.5" ry="4.6" fill="#f0f0f0" stroke="#404040" stroke-width="2" transform="rotate(19 -126.4 -19.7)"/>
<ellipse cx="-101.1" cy="-21.8" rx="12.5" ry="4.6" fill="#f0f0f0" stroke="#404040" stroke-width="2" transform="rotate(19 -101.1 -21.8)"/>
<ellipse cx="-75.8" cy="-23.3" rx="12.5" ry="4.6" fill="#f0f0f0" stroke="#404040" stroke-width="2" transform="rotate(19 -75.8 -23.3)"/>
<ellipse cx="-50.5" cy="-24.2" rx="12.5" ry="4.6" fill="#f0f0f0" stroke="#404040" stroke-width="2" transform="rotate(19 -50.5 -24.2)"/>
<ellipse cx="-25.2" cy="-24.8" rx="12.5" ry="4.6" fill="#f0f0f0" stroke="#404040" stroke-width="2" transform="rotate(19 -25.2 -24.8)"/>
<ellipse cx="0.1" cy="-25.0" rx="12.5" ry="4.6" fill="#f0f0f0" stroke="#404040" stroke-width="2" transform="rotate(19 0.1 -25.0)"/>
<ellipse cx="25.4" cy="-24.8" rx="12.5" ry="4.6" fill="#f0f0f0" stroke="#404040" stroke-width="2" transform="rotate(19 25.4 -24.8)"/>
<ellipse cx="50.7" cy="-24.2" rx="12.5" ry="4.6" fill="#f0f0f0" stroke="#404040" stroke-width="2" transform="rotate(19 50.7 -24.2)"/>
<ellipse cx="76.0" cy="-23.3" rx="12.5" ry="4.6" fill="#f0f0f0" stroke="#404040" stroke-width="2" transform="rotate(19 76.0 -23.3)"/>
<ellipse cx="101.3" cy="-21.8" rx="12.5" ry="4.6" fill="#f0f0f0" stroke="#404040" stroke-width="2" transform="rotate(19 101.3 -21.8)"/>
<ellipse cx="126.6" cy="-19.7" rx="12.5" ry="4.6" fill="#f0f0f0" stroke="#404040" stroke-width="2" transform="rotate(19 126.6 -19.7)"/>
<ellipse cx="151.9" cy="-16.5" rx="12.5" ry="4.6" fill="#f0f0f0" stroke="#404040" stroke-width="2" transform="rotate(19 151.9 -16.5)"/>
<ellipse cx="177.2" cy="-11.1" rx="12.5" ry="4.6" fill="#f0f0f0" stroke="#404040" stroke-width="2" transform="rotate(19 177.2 -11.1)"/>
<ellipse cx="-175.0" cy="12.4" rx="12.5" ry="4.6" fill="#f0f0f0" stroke="#404040" stroke-width="2" transform="rotate(22 -175.0 12.4)"/>
<ellipse cx="-149.7" cy="17.3" rx="12.5" ry="4.6" fill="#f0f0f0" stroke="#404040" stroke-width="2" transform="rotate(22 -149.7 17.3)"/>
<ellipse cx="-124.4" cy="20.1" rx="12.5" ry="4.6" fill="#f0f0f0" stroke="#404040" stroke-width="2" transform="rotate(22 -124.4 20.1)"/>
<ellipse cx="-99.1" cy="22.1" rx="12.5" ry="4.6" fill="#f0f0f0" stroke="#404040" stroke-width="2" transform="rotate(22 -99.1 22.1)"/>
<ellipse cx="-73.8" cy="23.4" rx="12.5" ry="4.6" fill="#f0f0f0" stroke="#404040" stroke-width="2" transform="rotate(22 -73.8 23.4)"/>
<ellipse cx="-48.5" cy="24.3" rx="12.5" ry="4.6" fill="#f0f0f0" stroke="#404040" stroke-width="2" transform="rotate(22 -48.5 24.3)"/>
<ellipse cx="-23.2" cy="24.9" rx="12.5" ry="4.6" fill="#f0f0f0" stroke="#404040" stroke-width="2" transform="rotate(22 -23.2 24.9)"/>
<ellipse cx="2.1" cy="25.0" rx="12.5" ry="4.6" fill="#f0f0f0" stroke="#404040" stroke-width="2" transform="rotate(22 2.1 25.0)"/>
<ellipse cx="27.4" cy="24.8" rx="12.5" ry="4.6" fill="#f0f0f0" stroke="#404040" stroke-width="2" transform="rotate(22 27.4 24.8)"/>
<ellipse cx="52.7" cy="24.2" rx="12.5" ry="4.6" fill="#f0f0f0" stroke="#404040" stroke-width="2" transform="rotate(22 52.7 24.2)"/>
<ellipse cx="78.0" cy="23.2" rx="12.5" ry="4.6" fill="#f0f0f0" stroke="#404040" stroke-width="2" transform="rotate(22 78.0 23.2)"/>
<ellipse cx="103.3" cy="21.8" rx="12.5" ry="4.6" fill="#f0f0f0" stroke="#404040" stroke-width="2" transform="rotate(22 103.3 21.8)"/>
<ellipse cx="128.6" cy="19.7" rx="12.5" ry="4.6" fill="#f0f0f0" stroke="#404040" stroke-width="2" transform="rotate(22 128.6 19.7)"/>
<ellipse cx="153.9" cy="16.7" rx="12.5" ry="4.6" fill="#f0f0f0" stroke="#404040" stroke-width="2" transform="rotate(22 153.9 16.7)"/>
<ellipse cx="179.2" cy="11.1" rx="12.5" ry="4.6" fill="#f0f0f0" stroke="#404040" stroke-width="2" transform="rotate(22 179.2 11.1)"/>
</g>
<g id="wbox">
<rect x="911.5" y="390.7" width="218.0" height="534.1" fill="#fafafa" stroke="#9a9a9a" stroke-width="3"/>
<line x1="911.5" y1="467.0" x2="1129.5" y2="467.0" stroke="#7a7a7a" stroke-width="4"/>
<line x1="911.5" y1="543.3" x2="1129.5" y2="543.3" stroke="#7a7a7a" stroke-width="4"/>
<line x1="911.5" y1="619.6" x2="1129.5" y2="619.6" stroke="#7a7a7a" stroke-width="4"/>
<line x1="911.5" y1="695.9" x2="1129.5" y2="695.9" stroke="#7a7a7a" stroke-width="4"/>
<line x1="911.5" y1="772.2" x2="1129.5" y2="772.2" stroke="#7a7a7a" stroke-width="4"/>
<line x1="911.5" y1="848.5" x2="1129.5" y2="848.5" stroke="#7a7a7a" stroke-width="4"/>
<g filter="url(#soft2)">
<text x="936" y="445.7" textLength="118" lengthAdjust="spacingAndGlyphs" font-family="Liberation Serif" font-weight="bold" font-size="42" fill="#505050" stroke="#505050" stroke-width="1.1">Сталь</text>
<text x="936" y="522.0" textLength="147" lengthAdjust="spacingAndGlyphs" font-family="Liberation Serif" font-weight="bold" font-size="42" fill="#505050" stroke="#505050" stroke-width="1.1">Стакан</text>
<text x="936" y="598.3" textLength="143" lengthAdjust="spacingAndGlyphs" font-family="Liberation Serif" font-weight="bold" font-size="42" fill="#505050" stroke="#505050" stroke-width="1.1">Дерево</text>
<text x="936" y="674.6" textLength="143" lengthAdjust="spacingAndGlyphs" font-family="Liberation Serif" font-weight="bold" font-size="42" fill="#505050" stroke="#505050" stroke-width="1.1">Воздух</text>
<text x="936" y="750.9" textLength="145" lengthAdjust="spacingAndGlyphs" font-family="Liberation Serif" font-weight="bold" font-size="42" fill="#505050" stroke="#505050" stroke-width="1.1">Стекло</text>
<text x="936" y="827.2" textLength="157" lengthAdjust="spacingAndGlyphs" font-family="Liberation Serif" font-weight="bold" font-size="42" fill="#505050" stroke="#505050" stroke-width="1.1">Молоко</text>
<text x="936" y="903.5" textLength="119" lengthAdjust="spacingAndGlyphs" font-family="Liberation Serif" font-weight="bold" font-size="42" fill="#505050" stroke="#505050" stroke-width="1.1">Озеро</text>
</g></g>
<g id="wm"><path d="M40.4,28.7 V21.3 A19.1,19.6 0 0 0 2.2,21.3 V78.7 A19.1,19.6 0 0 0 40.4,78.7 V57.4 H17 M55.8,2.2 H71.5 A20,20 0 0 1 91.5,22.2 V77.8 A20,20 0 0 1 71.5,97.8 H55.8 Z M102.7,2.2 H148.2 L105.2,97.8 H150.6 M217.2,28.7 V21.2 A19,19.6 0 0 0 179.2,21.2 V78.8 A19,19.6 0 0 0 217.2,78.8 V70.5 M230.5,21.3 A19.1,19.6 0 0 1 268.7,21.3 V78.7 A19.1,19.6 0 0 1 230.5,78.7 Z M281.5,100 V0 M338.3,0 V100 M283.6,2 L309.9,96.5 L336.2,2 M351.2,100 V2.2 H370 A19.4,19.4 0 0 1 389.4,21.6 V30.6 A19.4,19.4 0 0 1 370,50 H351.2 M403.9,100 L425.9,1.5 L447.9,100 M410.8,66 H441 M460.8,100 V0 M462.6,2 L499,98 M500.8,0 V100 M512.4,0.5 L538.6,48.5 L565.8,0.5 M538.6,47 V100" fill="none" stroke="#000" stroke-linejoin="miter" stroke-miterlimit="3"/><rect x="165.5" y="93.6" width="4.6" height="6.4"/></g>
</defs>
<rect width="2346" height="1889" fill="#fff"/>
<g font-family="Liberation Serif" fill="#000" font-size="60">
<text x="1222.5" y="152" text-anchor="middle">Номер №4</text>
<text x="133" y="270.8" textLength="2006" lengthAdjust="spacing">С помощью стрелочек "рассортируйте" слова по корзинам в соответствии с их</text>
<text x="134.3" y="337.6" textLength="1436" lengthAdjust="spacing">названиями, отражающими разные физические понятия.</text>
<text x="1222.5" y="1070" text-anchor="middle">Решение</text>
</g>
<g transform="translate(0 0.0)">
<rect x="135.8" y="352" width="1695.9" height="608" fill="#fcfcfc"/>
<g filter="url(#soft)">
<use href="#basket" transform="translate(480 487)"/>
<use href="#basket" transform="translate(1562.4 488.3)"/>
<rect x="331.0" y="643.0" width="296.0" height="77.0" fill="#f9f9f9" stroke="#8a8a8a" stroke-width="2.5"/>
<text x="479.3" y="698.0" text-anchor="middle" textLength="195" lengthAdjust="spacingAndGlyphs" font-family="Liberation Serif" font-weight="bold" font-size="42" fill="#4a4a4a" stroke="#4a4a4a" stroke-width="0.9">Вещества</text>
<rect x="1422.0" y="645.0" width="289.5" height="75.0" fill="#f9f9f9" stroke="#8a8a8a" stroke-width="2.5"/>
<text x="1566.4" y="698.0" text-anchor="middle" textLength="93" lengthAdjust="spacingAndGlyphs" font-family="Liberation Serif" font-weight="bold" font-size="42" fill="#4a4a4a" stroke="#4a4a4a" stroke-width="0.9">Тела</text>
<use href="#wbox"/>
</g></g>
<g transform="translate(0 791.5)">
<rect x="135.8" y="352" width="1695.9" height="608" fill="#fcfcfc"/>
<g filter="url(#soft)">
<use href="#basket" transform="translate(480 487)"/>
<use href="#basket" transform="translate(1562.4 488.3)"/>
<rect x="331.0" y="643.0" width="296.0" height="77.0" fill="#f9f9f9" stroke="#8a8a8a" stroke-width="2.5"/>
<text x="479.3" y="698.0" text-anchor="middle" textLength="195" lengthAdjust="spacingAndGlyphs" font-family="Liberation Serif" font-weight="bold" font-size="42" fill="#4a4a4a" stroke="#4a4a4a" stroke-width="0.9">Вещества</text>
<rect x="1422.0" y="645.0" width="289.5" height="75.0" fill="#f9f9f9" stroke="#8a8a8a" stroke-width="2.5"/>
<text x="1566.4" y="698.0" text-anchor="middle" textLength="93" lengthAdjust="spacingAndGlyphs" font-family="Liberation Serif" font-weight="bold" font-size="42" fill="#4a4a4a" stroke="#4a4a4a" stroke-width="0.9">Тела</text>
<use href="#wbox"/>
</g></g>
<g fill="#d6d6d6"><rect x="521" y="1143.5" width="20" height="2.5"/><rect x="849" y="1143.5" width="20" height="2.5"/><rect x="1040" y="1143.5" width="20" height="2.5"/></g>
<g stroke="#000" stroke-width="2.6">
<line x1="646.9" y1="1456.0" x2="915.6" y2="1225.3"/>
<line x1="640.6" y1="1486.4" x2="912.3" y2="1373.1"/>
<line x1="640.0" y1="1506.2" x2="912.3" y2="1439.0"/>
<line x1="625.4" y1="1521.4" x2="912.3" y2="1539.7"/>
<line x1="637.5" y1="1535.9" x2="918.2" y2="1612.0"/>
<line x1="1131.8" y1="1298.1" x2="1396.8" y2="1436.0"/>
<line x1="1139.0" y1="1681.6" x2="1399.7" y2="1517.1"/>
</g>
<g>
<use href="#wm" stroke-width="4.41" transform="translate(236.40 124.60) scale(0.4740)"/>
<use href="#wm" stroke-width="8.12" transform="translate(747.90 116.00) scale(0.0800)"/>
<use href="#wm" stroke-width="8.12" transform="translate(747.90 164.00) scale(0.0800)"/>
<use href="#wm" stroke-width="4.41" transform="translate(1036.60 180.40) scale(0.4740)"/>
<use href="#wm" stroke-width="4.41" transform="translate(1592.50 292.80) scale(0.4740)"/>
<use href="#wm" stroke-width="4.41" transform="translate(524.30 412.80) scale(0.4740)"/>
<use href="#wm" stroke-width="5.07" transform="translate(147.80 484.40) scale(0.2360)"/>
<use href="#wm" stroke-width="5.07" transform="translate(147.80 628.20) scale(0.2360)"/>
<use href="#wm" stroke-width="4.41" transform="translate(1080.60 560.60) scale(0.4740)"/>
<use href="#wm" stroke-width="4.41" transform="translate(1740.60 600.60) scale(0.4740)"/>
<use href="#wm" stroke-width="5.07" transform="translate(152.00 772.10) scale(0.2360)"/>
<use href="#wm" stroke-width="5.07" transform="translate(152.00 916.10) scale(0.2360)"/>
<use href="#wm" stroke-width="4.41" transform="translate(528.80 908.50) scale(0.4740)"/>
<use href="#wm" stroke-width="4.41" transform="translate(1040.60 932.70) scale(0.4740)"/>
<use href="#wm" stroke-width="4.41" transform="translate(1552.70 900.70) scale(0.4740)"/>
<use href="#wm" stroke-width="6.25" transform="translate(2064.00 888.10) scale(0.1040)"/>
<use href="#wm" stroke-width="5.07" transform="translate(151.60 1060.70) scale(0.2360)"/>
<use href="#wm" stroke-width="5.07" transform="translate(151.60 1204.70) scale(0.2360)"/>
<use href="#wm" stroke-width="4.41" transform="translate(528.80 1196.70) scale(0.4740)"/>
<use href="#wm" stroke-width="4.41" transform="translate(1596.70 1188.50) scale(0.4740)"/>
<use href="#wm" stroke-width="5.07" transform="translate(151.60 1348.20) scale(0.2360)"/>
<use href="#wm" stroke-width="5.07" transform="translate(179.50 1492.20) scale(0.2360)"/>
<use href="#wm" stroke-width="4.41" transform="translate(1084.30 1416.70) scale(0.4740)"/>
<use href="#wm" stroke-width="4.41" transform="translate(632.20 1588.30) scale(0.3150)"/>
<use href="#wm" stroke-width="4.41" transform="translate(1712.80 1592.80) scale(0.4740)"/>
<use href="#wm" stroke-width="4.41" transform="translate(264.10 1680.40) scale(0.3140)"/>
<use href="#wm" stroke-width="7.98" transform="translate(1075.60 1704.60) scale(0.0815)"/>
<use href="#wm" stroke-width="6.25" transform="translate(1179.80 1704.60) scale(0.1040)"/>
<use href="#wm" stroke-width="6.25" transform="translate(1295.70 1704.60) scale(0.1040)"/>
<use href="#wm" stroke-width="6.25" transform="translate(1411.60 1704.60) scale(0.1040)"/>
</g>
</svg></body></html>
